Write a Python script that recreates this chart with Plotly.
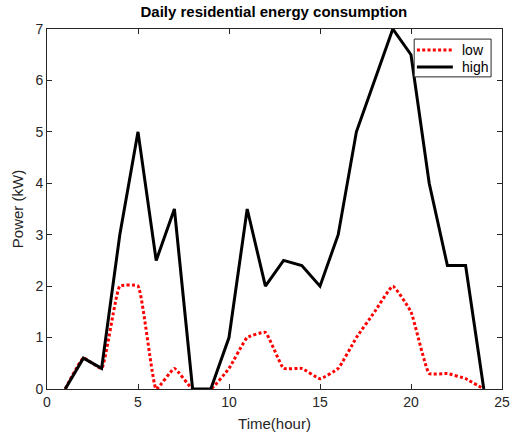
import plotly.graph_objects as go

# Hourly residential load profiles (kW)
hours = list(range(1, 25))
low = [0, 0.6, 0.4, 2.0, 2.0, 0, 0.4, 0, 0, 0.4, 1.0, 1.1,
       0.4, 0.4, 0.2, 0.4, 1.0, 1.5, 2.0, 1.5, 0.3, 0.3, 0.2, 0]
high = [0, 0.6, 0.4, 3.0, 5.0, 2.5, 3.5, 0, 0, 1.0, 3.5, 2.0,
        2.5, 2.4, 2.0, 3.0, 5.0, 6.0, 7.0, 6.5, 4.0, 2.4, 2.4, 0]
series_names = ["low", "high"]

x_ticks = [0, 5, 10, 15, 20, 25]
y_ticks = [0, 1, 2, 3, 4, 5, 6, 7]

axis_color = "#262626"
font_family = "Liberation Sans, Arial, sans-serif"
styles = [dict(color="red", width=3, dash="3px,2.3px"),
          dict(color="black", width=3, dash="solid")]

fig = go.Figure()
fig.add_trace(go.Scatter(
    x=hours, y=low, name=series_names[0], mode="lines",
    line=dict(**styles[0], shape="spline", smoothing=0.35),
))
fig.add_trace(go.Scatter(
    x=hours, y=high, name=series_names[1], mode="lines",
    line=styles[1],
))

axis_common = dict(
    showgrid=False, zeroline=False, showline=True, linecolor=axis_color,
    linewidth=1, mirror="ticks", ticks="inside", ticklen=5,
    tickcolor=axis_color, tickfont=dict(size=14, color=axis_color),
    automargin=False,
)

# Compact boxed legend in the upper-right corner of the axes
box = dict(x0=0.807, x1=0.976, y0=0.867, y1=0.972)
fig.add_shape(type="rect", xref="paper", yref="paper", **box,
              line=dict(color=axis_color, width=1), fillcolor="white", layer="above")
for i, (name, st) in enumerate(zip(series_names, styles)):
    yy = 0.9417 - i * 0.0472
    fig.add_shape(type="line", xref="paper", yref="paper",
                  x0=0.813, x1=0.892, y0=yy, y1=yy, line=st, layer="above")
    fig.add_annotation(xref="paper", yref="paper", x=0.907, y=yy, text=name,
                       showarrow=False, xanchor="left", yanchor="middle",
                       font=dict(size=14, color="black"))

fig.update_layout(
    width=510, height=433,
    margin=dict(l=47, r=8, t=29, b=44),
    paper_bgcolor="white", plot_bgcolor="white",
    font=dict(family=font_family, color=axis_color),
    title=dict(text="<b>Daily residential energy consumption</b>",
               x=0.537, xanchor="center", y=0.972, yanchor="middle",
               font=dict(size=15, color="black")),
    xaxis=dict(range=[0, 25], tickvals=x_ticks,
               title=dict(text="Time(hour)", font=dict(size=15, color=axis_color),
                          standoff=9),
               **axis_common),
    yaxis=dict(range=[0, 7], tickvals=y_ticks,
               title=dict(text="Power (kW)", font=dict(size=15, color=axis_color),
                          standoff=8),
               **axis_common),
    showlegend=False,
)

fig.write_html("out.html")
